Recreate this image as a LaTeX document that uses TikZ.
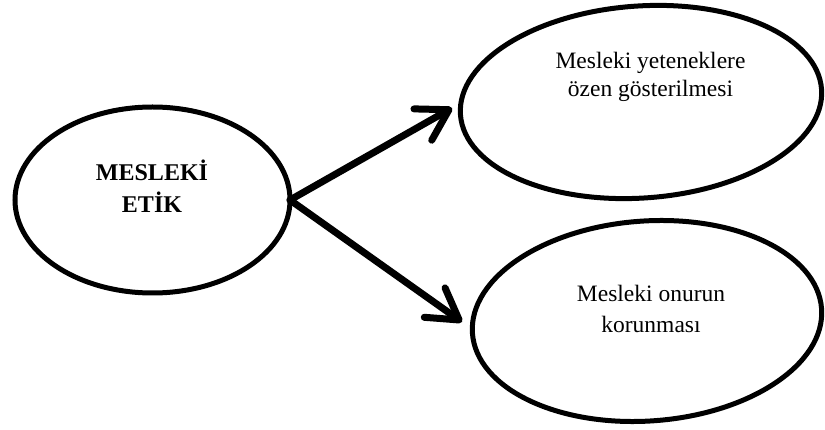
\documentclass[tikz,border=0pt]{standalone}
\usepackage{fontspec}
\setmainfont{Liberation Serif}
\usetikzlibrary{arrows.meta,shapes.geometric}
\begin{document}
\begin{tikzpicture}[x=1pt,y=-1pt,
  oval/.style={draw=black, line width=5pt, ellipse, inner sep=0pt, outer sep=0pt},
  lbl/.style={align=center, font=\fontsize{23.5}{28}\selectfont, anchor=base, inner sep=0pt},
  conn/.style={line width=7pt, line cap=round,
    -{Straight Barb[length=30pt,width=36pt,line cap=round,line join=round]}}]
\useasboundingbox (0,0) rectangle (825,430);
\node[oval, minimum width=275pt, minimum height=186pt] (etik) at (152.5,200) {};
\node[oval, minimum width=362pt, minimum height=192pt, rotate=4] (ozen) at (641,102) {};
\node[oval, minimum width=350pt, minimum height=200pt, rotate=4] (onur) at (647,321) {};
\node[lbl, font=\bfseries\fontsize{24}{32}\selectfont] (etiktxt) at (152,213) {MESLEKİ\\ETİK};
\node[lbl] (ozentxt) at (650.5,97) {Mesleki yeteneklere\\özen gösterilmesi};
\node[lbl, font=\fontsize{23.5}{31}\selectfont] (onurtxt) at (651,333) {Mesleki onurun\\korunması};
\coordinate (tip1) at (452,108);
\coordinate (tip2) at (462,322);
\draw[conn] (etik.east) -- (tip1);
\draw[conn] (etik.east) -- (tip2);
\end{tikzpicture}
\end{document}
